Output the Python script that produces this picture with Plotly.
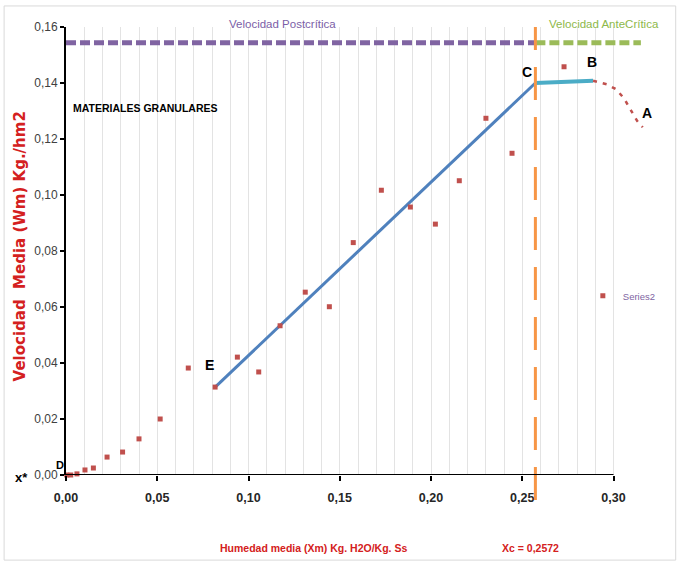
import plotly.graph_objects as go

# ---- data ----
series2_x = [0.0004, 0.0026, 0.006, 0.0104, 0.015, 0.0225, 0.031, 0.040, 0.0516, 0.067,
             0.0817, 0.0939, 0.1056, 0.1173, 0.1311, 0.1443, 0.1574, 0.1728, 0.1887,
             0.2024, 0.2155, 0.2301, 0.2444, 0.2729]
series2_y = [0.0000, 0.0000, 0.0004, 0.0018, 0.0025, 0.0064, 0.0082, 0.0129, 0.0200, 0.0382,
             0.0314, 0.0421, 0.0368, 0.0533, 0.0653, 0.0601, 0.0830, 0.1017, 0.0957,
             0.0896, 0.1051, 0.1274, 0.1149, 0.1458]

xc = 0.2572
line_ec_x = [0.0816, xc]
line_ec_y = [0.0313, 0.1400]
line_cb_x = [xc, 0.2888]
line_cb_y = [0.1400, 0.1408]
curve_ba_x = [0.2888, 0.2910, 0.2964, 0.3014, 0.3058, 0.3094, 0.3130, 0.3160]
curve_ba_y = [0.1408, 0.1405, 0.1395, 0.1378, 0.1345, 0.1304, 0.1264, 0.1242]
v_level = 0.1544
post_x = [0.0, xc]
ante_x = [xc, 0.315]

x_ticks = [0.0, 0.05, 0.10, 0.15, 0.20, 0.25, 0.30]
x_minor = [round(i * 0.01, 2) for i in range(1, 31)]
y_ticks = [0.0, 0.02, 0.04, 0.06, 0.08, 0.10, 0.12, 0.14, 0.16]

FONT = "Liberation Sans, Arial, sans-serif"
RED = "#C0504D"
TXT_RED = "#D42020"

fig = go.Figure()

fig.add_trace(go.Scatter(x=post_x, y=[v_level, v_level], mode="lines",
                         line=dict(color="#8064A2", width=5, dash="10px,4px"),
                         showlegend=False, hoverinfo="skip"))
fig.add_trace(go.Scatter(x=ante_x, y=[v_level, v_level], mode="lines",
                         line=dict(color="#9BBB59", width=5, dash="10px,4px"),
                         showlegend=False, hoverinfo="skip"))
fig.add_trace(go.Scatter(x=line_ec_x, y=line_ec_y, mode="lines",
                         line=dict(color="#4F81BD", width=3), showlegend=False))
fig.add_trace(go.Scatter(x=line_cb_x, y=line_cb_y, mode="lines",
                         line=dict(color="#4BACC6", width=4), showlegend=False))
fig.add_trace(go.Scatter(x=curve_ba_x, y=curve_ba_y, mode="lines",
                         line=dict(color=RED, width=2.5, dash="4px,6px"), showlegend=False))
fig.add_trace(go.Scatter(x=series2_x, y=series2_y, mode="markers", name="Series2",
                         marker=dict(symbol="square", size=5, color=RED),
                         cliponaxis=False))

# orange critical-moisture line
fig.add_shape(type="line", xref="x", yref="paper", x0=xc, x1=xc, y0=-0.056, y1=1.0,
              line=dict(color="#F79646", width=3, dash="33px,17px"))
# x axis line up to 0.30
fig.add_shape(type="line", xref="x", yref="y", x0=0, x1=0.30, y0=0, y1=0,
              line=dict(color="black", width=2))
# outer border
fig.add_shape(type="rect", xref="paper", yref="paper", x0=-0.106, x1=1.044, y0=-0.19, y1=1.047,
              line=dict(color="#D9D9D9", width=1))

# labels in data coordinates
ann = [
    dict(text="MATERIALES GRANULARES", x=0.0433, y=0.131, size=10.5),
    dict(text="C", x=0.2526, y=0.1439, size=14),
    dict(text="B", x=0.2882, y=0.1475, size=14),
    dict(text="A", x=0.3184, y=0.1293, size=14),
    dict(text="E", x=0.0789, y=0.0393, size=14),
]
for a in ann:
    fig.add_annotation(text=f"<b>{a['text']}</b>", x=a["x"], y=a["y"], xref="x", yref="y",
                       showarrow=False, xanchor="center", yanchor="middle",
                       font=dict(family=FONT, size=a["size"], color="black"))

# labels in paper coordinates
pann = [
    dict(text="Velocidad Postcrítica", x=0.370, y=1.0067, size=11.5, color="#7B5EA7", bold=False),
    dict(text="Velocidad AnteCrítica", x=0.921, y=1.0067, size=11.5, color="#8DB84A", bold=False),
    dict(text="D", x=-0.0103, y=0.0223, size=11, color="black", bold=True),
    dict(text="x*", x=-0.076, y=-0.0045, size=13, color="black", bold=True),
    dict(text="Humedad media (Xm) Kg. H2O/Kg. Ss", x=0.424, y=-0.163, size=10.5, color=TXT_RED, bold=True),
    dict(text="Xc = 0,2572", x=0.795, y=-0.163, size=10.5, color=TXT_RED, bold=True),
]
for a in pann:
    t = f"<b>{a['text']}</b>" if a["bold"] else a["text"]
    fig.add_annotation(text=t, x=a["x"], y=a["y"], xref="paper", yref="paper",
                       showarrow=False, xanchor="center", yanchor="middle",
                       font=dict(family=FONT, size=a["size"], color=a["color"]))

fig.add_annotation(text="<b>Velocidad  Media (Wm) Kg./hm2</b>", xref="paper", yref="paper",
                   x=-0.079, y=0.51, textangle=-90, showarrow=False,
                   xanchor="center", yanchor="middle",
                   font=dict(family="DejaVu Sans, sans-serif", size=15, color=TXT_RED))

fig.update_layout(
    width=677, height=562,
    margin=dict(l=66, r=27, t=27, b=87, autoexpand=False),
    paper_bgcolor="white", plot_bgcolor="white",
    separators=",.",
    font=dict(family=FONT, color="#262626"),
    legend=dict(x=0.885, y=0.40, xanchor="left", yanchor="middle",
                bgcolor="rgba(0,0,0,0)", font=dict(family=FONT, size=9.5, color="#8064A2"),
                itemwidth=30),
    xaxis=dict(range=[0, 0.32], tickvals=x_ticks, tickformat=".2f",
               ticks="outside", ticklen=5, tickwidth=2, tickcolor="black",
               showgrid=True, gridcolor="#E3E3E3", gridwidth=1,
               minor=dict(tickvals=x_minor, showgrid=True, gridcolor="#E3E3E3", gridwidth=1, ticks=""),
               showline=False, zeroline=False,
               tickfont=dict(family=FONT, size=12.5, color="#262626", weight="bold"),
               ticklabelstandoff=6),
    yaxis=dict(range=[0, 0.16], tickvals=y_ticks, tickformat=".2f",
               ticks="outside", ticklen=4, tickwidth=2, tickcolor="black",
               showgrid=False, zeroline=False, showline=True, linecolor="black", linewidth=2,
               tickfont=dict(family=FONT, size=12, color="#404040")),
)

fig.write_html("out.html", config={"displayModeBar": False},
               post_script="document.body.style.margin='0';")
